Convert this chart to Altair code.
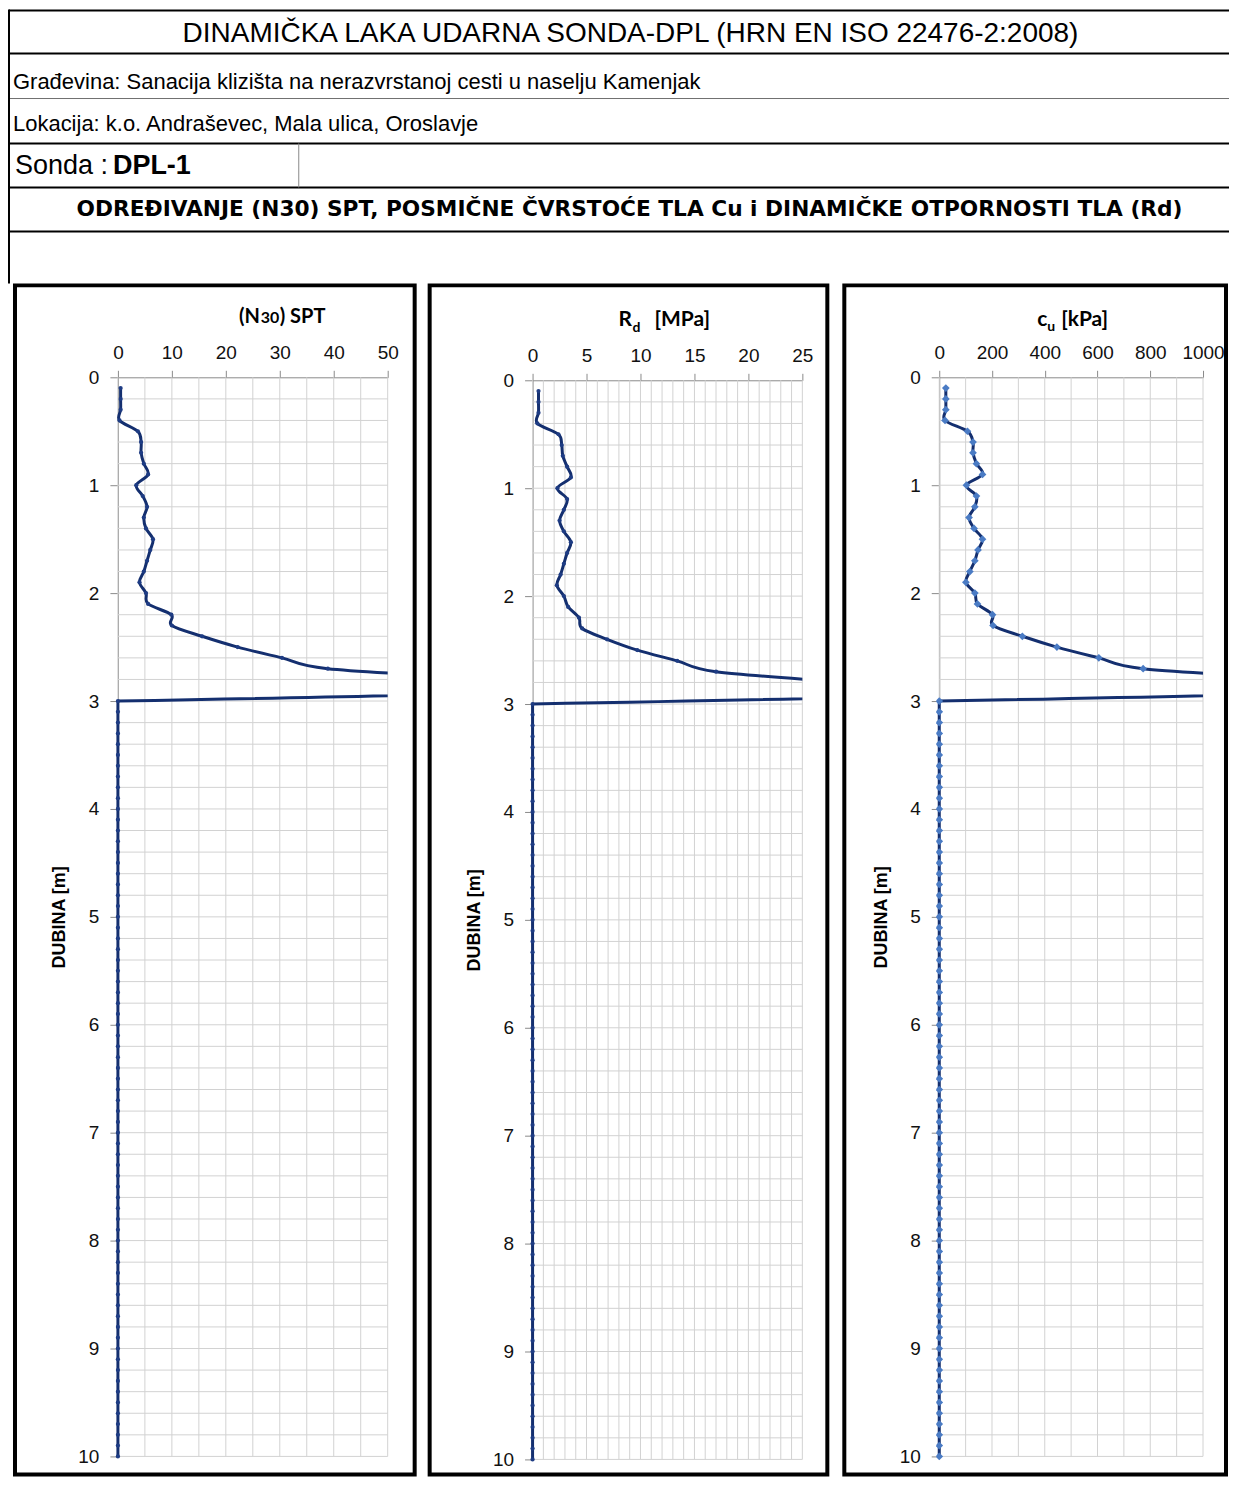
import altair as alt
import pandas as pd

# ---------------- data ----------------
DEPTH = [0.1, 0.2, 0.3, 0.4, 0.5, 0.6, 0.7, 0.8, 0.9, 1.0,
         1.1, 1.2, 1.3, 1.4, 1.5, 1.6, 1.7, 1.8, 1.9, 2.0,
         2.1, 2.2, 2.3, 2.4, 2.5, 2.6, 2.7, 2.8, 2.9, 3.0,
         3.1, 3.2, 3.3, 3.4, 3.5, 3.6, 3.7, 3.8, 3.9, 4.0,
         4.1, 4.2, 4.3, 4.4, 4.5, 4.6, 4.7, 4.8, 4.9, 5.0,
         5.1, 5.2, 5.3, 5.4, 5.5, 5.6, 5.7, 5.8, 5.9, 6.0,
         6.1, 6.2, 6.3, 6.4, 6.5, 6.6, 6.7, 6.8, 6.9, 7.0,
         7.1, 7.2, 7.3, 7.4, 7.5, 7.6, 7.7, 7.8, 7.9, 8.0,
         8.1, 8.2, 8.3, 8.4, 8.5, 8.6, 8.7, 8.8, 8.9, 9.0,
         9.1, 9.2, 9.3, 9.4, 9.5, 9.6, 9.7, 9.8, 9.9, 10.0]

ZEROS_BELOW_3M = [0, 0, 0, 0, 0, 0, 0, 0, 0, 0,
                  0, 0, 0, 0, 0, 0, 0, 0, 0, 0,
                  0, 0, 0, 0, 0, 0, 0, 0, 0, 0,
                  0, 0, 0, 0, 0, 0, 0, 0, 0, 0,
                  0, 0, 0, 0, 0, 0, 0, 0, 0, 0,
                  0, 0, 0, 0, 0, 0, 0, 0, 0, 0,
                  0, 0, 0, 0, 0, 0, 0, 0, 0, 0]

SPT_TOP = [0.5, 0.5, 0.5, 0.3, 3.7, 4.3, 4.3, 4.8, 5.6, 3.4,
           4.6, 5.4, 4.8, 5.2, 6.5, 6.0, 5.4, 4.8, 4.0, 5.2,
           5.6, 9.9, 10.0, 15.6, 22.2, 30.4, 38.9, 68.0, 85.0, 0.0]
RD_TOP = [0.55, 0.55, 0.55, 0.45, 2.4, 2.7, 2.8, 3.2, 3.55, 2.3,
          3.2, 2.9, 2.5, 2.9, 3.55, 3.2, 2.9, 2.6, 2.25, 2.9,
          3.3, 4.3, 4.6, 6.9, 9.7, 13.4, 17.0, 29.0, 42.0, 0.0]
CU_TOP = [25, 25, 25, 22, 107, 128, 128, 141, 164, 103,
          141, 135, 113, 132, 164, 147, 135, 116, 101, 135,
          145, 202, 204, 315, 446, 605, 773, 1353, 1690, 0]

SPT = SPT_TOP + ZEROS_BELOW_3M
RD = RD_TOP + ZEROS_BELOW_3M
CU = CU_TOP + ZEROS_BELOW_3M

SPT_TICKS = [0, 10, 20, 30, 40, 50]
RD_TICKS = [0, 5, 10, 15, 20, 25]
CU_TICKS = [0, 200, 400, 600, 800, 1000]
DEPTH_TICKS = [0, 1, 2, 3, 4, 5, 6, 7, 8, 9, 10]

SPT_GRID = [0, 5, 10, 15, 20, 25, 30, 35, 40, 45, 50]
RD_GRID = [0, 1, 2, 3, 4, 5, 6, 7, 8, 9, 10, 11, 12, 13, 14, 15, 16, 17, 18, 19,
           20, 21, 22, 23, 24, 25]
CU_GRID = [0, 100, 200, 300, 400, 500, 600, 700, 800, 900, 1000]
DEPTH_GRID = [0.2, 0.4, 0.6, 0.8, 1.0, 1.2, 1.4, 1.6, 1.8, 2.0,
              2.2, 2.4, 2.6, 2.8, 3.0, 3.2, 3.4, 3.6, 3.8, 4.0,
              4.2, 4.4, 4.6, 4.8, 5.0, 5.2, 5.4, 5.6, 5.8, 6.0,
              6.2, 6.4, 6.6, 6.8, 7.0, 7.2, 7.4, 7.6, 7.8, 8.0,
              8.2, 8.4, 8.6, 8.8, 9.0, 9.2, 9.4, 9.6, 9.8, 10.0]

# ---------------- styling ----------------
H = 1080
NAVY = "#142F6F"
GRID = "#D2D2D2"
AXIS_GREY = "#8A8A8A"
ARIAL = "Liberation Sans"
CAL = "Lato"
ONE = alt.Data(values=[{}])
RIGHT = 1112  # right end of the header table (relative to panel-1 plot)


def line_frame(vals):
    rows = []
    for d, v in zip(DEPTH, vals):
        if d <= 3.0:
            rows.append({"depth": d, "val": v, "seg": "a"})
        if d >= 3.0:
            rows.append({"depth": d, "val": v, "seg": "b"})
    return pd.DataFrame(rows)


def txt(text, x, y, size, font=ARIAL, weight="normal", align="left",
        baseline="middle", color="#000000"):
    return alt.Chart(ONE).mark_text(
        text=text, font=font, fontSize=size, fontWeight=weight, align=align,
        baseline=baseline, color=color
    ).encode(x=alt.value(x), y=alt.value(y))


def hrule(y, x1, x2, width=2, color="#000000"):
    return alt.Chart(ONE).mark_rule(color=color, strokeWidth=width).encode(
        x=alt.value(x1), x2=alt.value(x2), y=alt.value(y))


def vrule(x, y1, y2, width=2, color="#000000"):
    return alt.Chart(ONE).mark_rule(color=color, strokeWidth=width).encode(
        x=alt.value(x), y=alt.value(y1), y2=alt.value(y2))


def title_piece(spec, dx, dy):
    text, x, y, size = spec[:4]
    align = spec[4] if len(spec) > 4 else "left"
    return txt(text, x + dx, y + dy, size, font=CAL, weight="bold", align=align,
               baseline="alphabetic")


def panel(vals, xmax, ticks, grid_x, W, frame_l, frame_r, title_specs, marker,
          dx, dy=0):
    xs = alt.Scale(domain=[0, xmax], nice=False, zero=False, range=[dx, dx + W])
    ys = alt.Scale(domain=[0, 10], nice=False, zero=False, range=[dy, dy + H])
    x_enc = alt.X("val:Q", scale=xs, axis=alt.Axis(
        orient="top", values=ticks, grid=False, title=None, format="d",
        offset=-dy,
        labelFont=ARIAL, labelFontSize=19, labelColor="#111111",
        labelFlush=False, labelOverlap=False, labelPadding=8,
        tickSize=7, tickColor=AXIS_GREY, domainColor=AXIS_GREY))
    y_enc = alt.Y("depth:Q", scale=ys, axis=alt.Axis(
        values=DEPTH_TICKS, grid=False, title="DUBINA [m]", format="d",
        offset=-dx,
        titleFont=ARIAL, titleFontSize=18, titleFontWeight="bold",
        titleColor="#000000", titleX=-58, titleY=H / 2 + dy, titleAngle=270,
        titleAlign="center", titleBaseline="middle",
        labelFont=ARIAL, labelFontSize=19, labelColor="#111111",
        labelFlush=False, labelOverlap=False, labelPadding=11,
        tickSize=8, tickColor=AXIS_GREY, domainColor=AXIS_GREY))

    vgrid = alt.Chart(pd.DataFrame({"val": grid_x})).mark_rule(
        color=GRID, strokeWidth=1).encode(
        x=x_enc, y=alt.value(dy), y2=alt.value(dy + H))
    hgrid = alt.Chart(pd.DataFrame({"depth": DEPTH_GRID})).mark_rule(
        color=GRID, strokeWidth=1).encode(
        y=y_enc, x=alt.value(dx), x2=alt.value(dx + W))
    line = alt.Chart(line_frame(vals)).mark_line(
        clip=True, interpolate="cardinal", color=NAVY, strokeWidth=3
    ).encode(x=x_enc, y=y_enc, detail="seg:N", order="depth:Q")
    pts = alt.Chart(pd.DataFrame({"depth": DEPTH, "val": vals})).mark_point(
        clip=True, filled=True, opacity=1, **marker).encode(x=x_enc, y=y_enc)
    frame = alt.Chart(ONE).mark_rect(
        fillOpacity=0, stroke="#000000", strokeWidth=4).encode(
        x=alt.value(frame_l + dx), x2=alt.value(frame_r + dx),
        y=alt.value(-92), y2=alt.value(H + 18))
    titles = [title_piece(spec, dx, dy) for spec in title_specs]
    return [vgrid, hgrid, line, pts, frame] + titles


small_marker = dict(shape="circle", size=18, color="#1E3C84")
cu_marker = dict(shape="diamond", size=60, color="#4A7BC4")

# layout: hconcat with flush bounds; each group starts D px left of its plot
SPACING = 134
D1, D2, D3 = 3, 11, 3
W1, W2, W3 = 270, 270, 264

# header (drawn in panel-1 coordinates)
hx = D1
header = [
    hrule(-367, -109 + hx, RIGHT + hx), hrule(-324, -109 + hx, RIGHT + hx),
    hrule(-279, -109 + hx, RIGHT + hx, width=1, color="#6E6E6E"),
    hrule(-234, -109 + hx, RIGHT + hx), hrule(-190, -109 + hx, RIGHT + hx),
    hrule(-146, -109 + hx, RIGHT + hx),
    vrule(-109 + hx, -368, -94),
    vrule(181 + hx, -234, -190, width=1, color="#8A8A8A"),
    txt("DINAMIČKA LAKA UDARNA SONDA-DPL (HRN EN ISO 22476-2:2008)", 513 + hx, -344, 28,
        align="center"),
    txt("Građevina: Sanacija klizišta na nerazvrstanoj cesti u naselju Kamenjak",
        -105 + hx, -296, 22),
    txt("Lokacija: k.o. Andraševec, Mala ulica, Oroslavje", -105 + hx, -254, 22),
    txt("Sonda :", -103 + hx, -211, 27),
    txt("DPL-1", -5 + hx, -211, 27, weight="bold"),
    txt("ODREĐIVANJE (N30) SPT, POSMIČNE ČVRSTOĆE TLA Cu i DINAMIČKE OTPORNOSTI TLA (Rd)",
        512 + hx, -168, 21.7, font="DejaVu Sans", weight="bold", align="center"),
]

spt_titles = [("(N", 142, -54, 20, "right"), ("30", 143, -54, 16), (") SPT", 162, -54, 20)]
rd_titles = [("R", 86, -54, 21), ("d", 100, -48, 14), ("[MPa]", 122, -54, 21)]
cu_titles = [("c", 98, -51, 21), ("u", 108, -46, 14), ("[kPa]", 122, -51, 21)]

p1 = alt.layer(*panel(SPT, 50, SPT_TICKS, SPT_GRID, W1, -103, 297,
                      spt_titles, small_marker, dx=D1), *header
               ).properties(width=W1 + D1, height=H + 4)
p2 = alt.layer(*panel(RD, 25, RD_TICKS, RD_GRID, W2, -103, 295,
                      rd_titles, small_marker, dx=D2, dy=3)
               ).properties(width=W2 + D2, height=H + 7)
p3 = alt.layer(*panel(CU, 1000, CU_TICKS, CU_GRID, W3, -95, 287,
                      cu_titles, cu_marker, dx=D3)
               ).properties(width=W3 + D3, height=H + 4)

chart = alt.hconcat(p1, p2, p3, spacing=SPACING, bounds="flush").properties(
    padding=0, background="white"
).configure_view(stroke=None)

chart.save("out.html", embed_options={"renderer": "svg", "actions": False})
